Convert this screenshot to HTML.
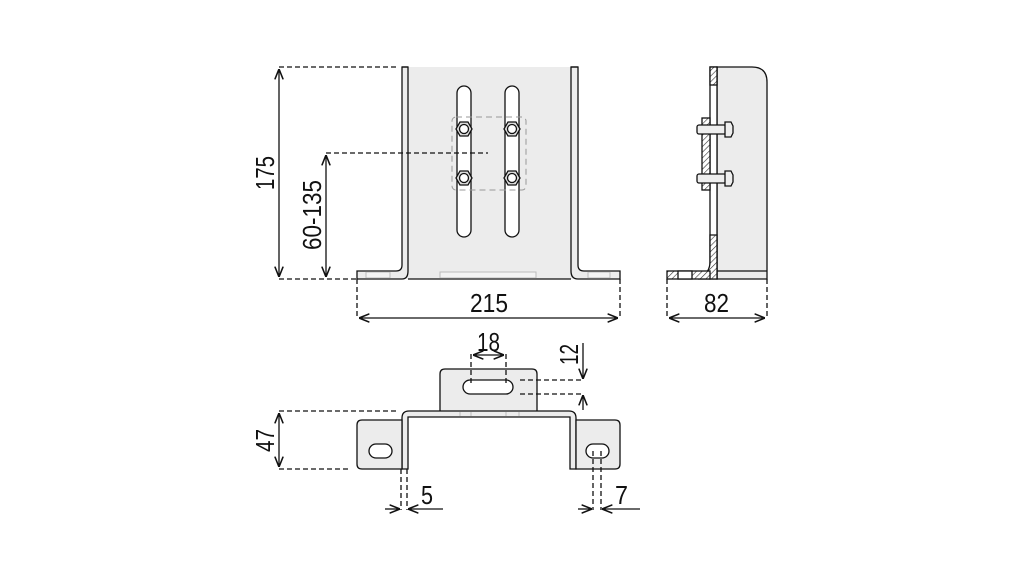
<!DOCTYPE html>
<html><head><meta charset="utf-8"><style>
html,body{margin:0;padding:0;background:#fff;}
svg{display:block}
text{font-family:"Liberation Sans",sans-serif;font-size:26px;fill:#111}
</style></head><body>
<svg width="1021" height="568" viewBox="0 0 1021 568" xmlns="http://www.w3.org/2000/svg">
<defs>
<marker id="a" viewBox="0 0 10 10" refX="10" refY="5" markerWidth="8" markerHeight="8" orient="auto-start-reverse"><path d="M0,1 L10,5 L0,9" fill="none" stroke="#111" stroke-width="1.5"/></marker>
<pattern id="h" width="4" height="4" patternUnits="userSpaceOnUse" patternTransform="rotate(45)"><rect width="4" height="4" fill="#fff"/><line x1="0" y1="0" x2="0" y2="4" stroke="#333" stroke-width="1.2"/></pattern>
</defs>
<g stroke="#111" stroke-width="1.3" fill="none">
<rect x="402" y="67" width="176" height="212" fill="#ececec" stroke="none"/>
<path d="M402,67 V265 Q402,271 396,271 H357 V279 H402 Q408,279 408,271 V67 Z" fill="#ececec"/>
<path d="M578,67 V265 Q578,271 584,271 H620 V279 H578 Q571,279 571,271 V67 Z" fill="#ececec"/>
<line x1="408" y1="279" x2="571" y2="279"/>
<line x1="402" y1="67" x2="408" y2="67"/><line x1="571" y1="67" x2="578" y2="67"/>
<g stroke="#bbb" stroke-width="1"><rect x="366" y="272" width="24" height="6" fill="#f3f3f3"/><rect x="588" y="272" width="22" height="6" fill="#f3f3f3"/><rect x="440" y="272" width="96" height="6" fill="#f3f3f3"/></g>
<rect x="457" y="86" width="14" height="151" rx="7" fill="#fff"/>
<rect x="505" y="86" width="14" height="151" rx="7" fill="#fff"/>
<rect x="452" y="117" width="74" height="73" rx="4" stroke="#999" stroke-dasharray="6,4" stroke-width="1"/>
<g fill="#ddd">
<polygon points="456,129 460,122 468,122 472,129 468,136 460,136"/><circle cx="464" cy="129" r="4.5" fill="#fff"/>
<polygon points="504,129 508,122 516,122 520,129 516,136 508,136"/><circle cx="512" cy="129" r="4.5" fill="#fff"/>
<polygon points="456,178 460,171 468,171 472,178 468,185 460,185"/><circle cx="464" cy="178" r="4.5" fill="#fff"/>
<polygon points="504,178 508,171 516,171 520,178 516,185 508,185"/><circle cx="512" cy="178" r="4.5" fill="#fff"/>
</g>
<g stroke-dasharray="5,3"><line x1="279" y1="67" x2="398" y2="67"/><line x1="279" y1="279" x2="357" y2="279"/><line x1="326" y1="153" x2="488" y2="153"/>
<line x1="357" y1="279" x2="357" y2="318"/><line x1="620" y1="279" x2="620" y2="318"/></g>
<line x1="279" y1="69" x2="279" y2="277" marker-start="url(#a)" marker-end="url(#a)"/>
<line x1="326" y1="155" x2="326" y2="277" marker-start="url(#a)" marker-end="url(#a)"/>
<line x1="359" y1="318" x2="618" y2="318" marker-start="url(#a)" marker-end="url(#a)"/>
<path d="M717,67 H752 Q767,67 767,82 V279 H717 Z" fill="#ececec"/>
<rect x="710" y="67" width="7" height="212" fill="#fff"/>
<rect x="710" y="67" width="7" height="18" fill="url(#h)"/>
<path d="M710,235 H717 V279 H700 Q710,272 710,262 Z" fill="url(#h)"/>
<rect x="667" y="271" width="43" height="8" fill="url(#h)"/>
<rect x="678" y="271" width="14" height="8" fill="#fff"/>
<line x1="717" y1="271" x2="767" y2="271"/>
<rect x="702" y="118" width="8" height="72" fill="url(#h)"/>
<rect x="697" y="125" width="29" height="9" rx="2" fill="#eee"/>
<path d="M725,122 H731 L733,126 V133 L731,137 H725 Z" fill="#eee"/>
<rect x="697" y="174" width="29" height="9" rx="2" fill="#eee"/>
<path d="M725,171 H731 L733,175 V182 L731,186 H725 Z" fill="#eee"/>
<g stroke-dasharray="5,3"><line x1="667" y1="279" x2="667" y2="318"/><line x1="767" y1="279" x2="767" y2="318"/></g>
<line x1="669" y1="318" x2="765" y2="318" marker-start="url(#a)" marker-end="url(#a)"/>
<path d="M440,411 V374 Q440,369 445,369 H532 Q537,369 537,374 V411" fill="#ececec"/>
<rect x="463" y="380" width="50" height="14" rx="7" fill="#fff"/>
<path d="M402,469 V418 Q402,411 409,411 H569 Q576,411 576,418 V469 H570 V417 H408 V469 Z" fill="#ececec"/>
<g stroke="#bbb" stroke-width="1"><line x1="460" y1="412" x2="460" y2="416"/><line x1="471" y1="412" x2="471" y2="416"/><line x1="506" y1="412" x2="506" y2="416"/><line x1="519" y1="412" x2="519" y2="416"/></g>
<path d="M402,420 H362 Q357,420 357,425 V464 Q357,469 362,469 H402 Z" fill="#ececec"/>
<path d="M576,420 H615 Q620,420 620,425 V464 Q620,469 615,469 H576 Z" fill="#ececec"/>
<rect x="369" y="444" width="23" height="14" rx="7" fill="#fff"/>
<rect x="586" y="444" width="23" height="14" rx="7" fill="#fff"/>
<g stroke-dasharray="5,3">
<line x1="279" y1="411" x2="397" y2="411"/><line x1="279" y1="469" x2="350" y2="469"/>
<line x1="471" y1="354" x2="471" y2="386"/><line x1="506" y1="354" x2="506" y2="386"/>
<line x1="520" y1="380" x2="583" y2="380"/><line x1="520" y1="394" x2="583" y2="394"/>
<line x1="401" y1="469" x2="401" y2="510"/><line x1="407" y1="469" x2="407" y2="510"/>
<line x1="593" y1="451" x2="593" y2="510"/><line x1="601" y1="451" x2="601" y2="510"/>
</g>
<line x1="279" y1="413" x2="279" y2="467" marker-start="url(#a)" marker-end="url(#a)"/>
<line x1="473" y1="355" x2="504" y2="355" marker-start="url(#a)" marker-end="url(#a)"/>
<line x1="583" y1="343" x2="583" y2="379" marker-end="url(#a)"/>
<line x1="583" y1="410" x2="583" y2="395" marker-end="url(#a)"/>
<line x1="385" y1="509" x2="400" y2="509" marker-end="url(#a)"/>
<line x1="443" y1="509" x2="408" y2="509" marker-end="url(#a)"/>
<line x1="578" y1="509" x2="592" y2="509" marker-end="url(#a)"/>
<line x1="640" y1="509" x2="602" y2="509" marker-end="url(#a)"/>
</g>
<g stroke="none">
<text x="470" y="312" textLength="38" lengthAdjust="spacingAndGlyphs">215</text>
<text x="704" y="312" textLength="25" lengthAdjust="spacingAndGlyphs">82</text>
<text transform="translate(274,190) rotate(-90)" textLength="34" lengthAdjust="spacingAndGlyphs">175</text>
<text transform="translate(321,250) rotate(-90)" textLength="70" lengthAdjust="spacingAndGlyphs">60-135</text>
<text transform="translate(274,452) rotate(-90)" textLength="23" lengthAdjust="spacingAndGlyphs">47</text>
<text transform="translate(578,365) rotate(-90)" textLength="21" lengthAdjust="spacingAndGlyphs">12</text>
<text x="477" y="351" textLength="23" lengthAdjust="spacingAndGlyphs">18</text>
<text x="421" y="504" textLength="12" lengthAdjust="spacingAndGlyphs">5</text>
<text x="615" y="504" textLength="13" lengthAdjust="spacingAndGlyphs">7</text>
</g>
</svg>
</body></html>
